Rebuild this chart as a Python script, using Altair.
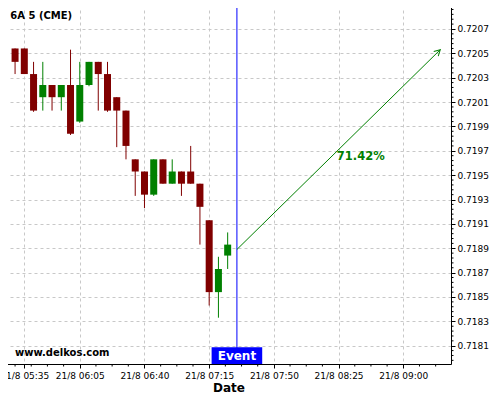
import math
import altair as alt
import pandas as pd

# ---------------- data ----------------
chart_title = "6A 5 (CME)"
watermark = "www.delkos.com"
day_label = "21/8"

times = ["05:30", "05:35", "05:40", "05:45", "05:50", "05:55", "06:00", "06:05",
         "06:10", "06:15", "06:20", "06:25", "06:30", "06:35", "06:40", "06:45",
         "06:50", "06:55", "07:00", "07:05", "07:10", "07:15", "07:20", "07:25"]
opens = [0.72054, 0.72054, 0.72033, 0.72014, 0.72024, 0.72014, 0.72024, 0.71994,
         0.72024, 0.72043, 0.72033, 0.72014, 0.72003, 0.71963, 0.71953, 0.71934,
         0.71963, 0.71943, 0.71953, 0.71953, 0.71943, 0.71913, 0.71854, 0.71884]
highs = [0.72054, 0.72054, 0.72043, 0.72043, 0.72024, 0.72024, 0.72053, 0.72043,
         0.72043, 0.72043, 0.72043, 0.72014, 0.72003, 0.71963, 0.71953, 0.71963,
         0.71963, 0.71963, 0.71953, 0.71974, 0.71943, 0.71913, 0.71883, 0.71903]
lows = [0.72033, 0.72033, 0.72002, 0.72003, 0.72003, 0.72003, 0.71983, 0.71993,
        0.72023, 0.72003, 0.72002, 0.71973, 0.71963, 0.71933, 0.71923, 0.71933,
        0.71943, 0.71943, 0.71933, 0.71943, 0.71893, 0.71843, 0.71833, 0.71873]
closes = [0.72043, 0.72033, 0.72003, 0.72024, 0.72014, 0.72024, 0.71984, 0.72024,
          0.72043, 0.72033, 0.72003, 0.72003, 0.71974, 0.71953, 0.71934, 0.71963,
          0.71943, 0.71953, 0.71943, 0.71943, 0.71924, 0.71854, 0.71873, 0.71893]

event_time = "07:30"
event_label = "Event"
arrow_times = ["07:30", "09:20"]
arrow_prices = [0.71889, 0.72053]
prob_label = "71.42%"
prob_time = "08:37"
prob_price = 0.71965

x_tick_times = ["05:35", "06:05", "06:40", "07:15", "07:50", "08:25", "09:00"]
y_ticks = [0.7181, 0.7183, 0.7185, 0.7187, 0.7189, 0.7191, 0.7193,
           0.7195, 0.7197, 0.7199, 0.7201, 0.7203, 0.7205, 0.7207, 0.7209]
x_domain_minutes = [327.8, 563.1]
y_domain = [0.71795, 0.720905]

# ---------------- helpers ----------------
def to_min(s):
    h, m = s.split(":")
    return int(h) * 60 + float(m)

W, H = 445, 360
FONT = "DejaVu Sans"
UP, DOWN = "#008000", "#800000"

x_ticks = [to_min(t) for t in x_tick_times]
step_minor_x = (x_ticks[2] - x_ticks[1]) / 4
x_minor = []
v = x_ticks[1] - step_minor_x
while v > x_domain_minutes[0]:
    x_minor.append(v)
    v -= step_minor_x
v = x_ticks[1] + step_minor_x
while v < x_domain_minutes[1]:
    x_minor.append(v)
    v += step_minor_x
x_minor = [m for m in x_minor if all(abs(m - t) > 0.5 for t in x_ticks)]

y_minor = []
yv = y_ticks[0] - 3 * 0.00004
while yv < y_domain[1]:
    if yv > y_domain[0] and all(abs(yv - t) > 1e-7 for t in y_ticks):
        y_minor.append(round(yv, 6))
    yv += 0.00004

xscale = alt.Scale(domain=x_domain_minutes, nice=False, zero=False)
yscale = alt.Scale(domain=y_domain, nice=False, zero=False)

candles = pd.DataFrame({
    "t": [to_min(t) for t in times],
    "open": opens, "high": highs, "low": lows, "close": closes,
})
candles["dir"] = ["up" if c >= o else "down" for o, c in zip(opens, closes)]

color = alt.Color("dir:N", scale=alt.Scale(domain=["up", "down"], range=[UP, DOWN]), legend=None)

label_expr = ('"' + day_label + ' " + (floor(datum.value/60) < 10 ? "0" : "") + floor(datum.value/60)'
              ' + ":" + (datum.value % 60 < 10 ? "0" : "") + (datum.value % 60)')

x_axis = alt.Axis(values=x_ticks, labelExpr=label_expr, title="Date", grid=True,
                  gridDash=[3, 3], gridColor="#c8c8c8", tickSize=4, tickColor="black",
                  domainColor="black", labelFont=FONT, labelFontSize=9, labelColor="black",
                  labelPadding=3, titleFont=FONT, titleFontSize=12, titleFontWeight="bold",
                  titleColor="black", titlePadding=2, labelFlush=False, labelOverlap=False)
y_axis = alt.Axis(values=y_ticks, format=".4f", orient="right", title=None, grid=True,
                  gridDash=[3, 3], gridColor="#c8c8c8", tickSize=4, tickColor="black",
                  domainColor="black", labelFont=FONT, labelFontSize=9, labelColor="black",
                  labelPadding=2, labelFlush=False, labelOverlap=False)

def X(field):
    return alt.X(field, scale=xscale, axis=x_axis, title="Date")

def Y(field):
    return alt.Y(field, scale=yscale, axis=y_axis, title=None)

base = alt.Chart(candles)

wicks = base.mark_rule(strokeWidth=1).encode(
    x=X("t:Q"), y=Y("low:Q"), y2="high:Q", color=color)
bodies = base.mark_bar(size=7).encode(
    x=X("t:Q"), y=Y("open:Q"), y2="close:Q", color=color)

event_df = pd.DataFrame({"t": [to_min(event_time)], "label": [event_label]})
event_line = alt.Chart(event_df).mark_rule(color="#0000ff", strokeWidth=1).encode(x=X("t:Q"))
event_box = alt.Chart(event_df).mark_point(
    shape="M -1 -0.33 L 1 -0.33 L 1 0.33 L -1 0.33 Z", filled=True, fill="#0000ff",
    strokeWidth=0, size=2560, opacity=1).encode(x=X("t:Q"), y=alt.value(351.7))
event_text = alt.Chart(event_df).mark_text(
    font=FONT, fontSize=12, fontWeight="bold", color="white", align="center",
    baseline="middle").encode(x=X("t:Q"), y=alt.value(352), text="label:N")

arrow_df = pd.DataFrame({"t": [to_min(t) for t in arrow_times], "p": arrow_prices})
arrow_line = alt.Chart(arrow_df).mark_line(color=UP, strokeWidth=1).encode(
    x=X("t:Q"), y=Y("p:Q"))

px_per_min = W / (x_domain_minutes[1] - x_domain_minutes[0])
px_per_price = H / (y_domain[1] - y_domain[0])
dx = (arrow_df.t[1] - arrow_df.t[0]) * px_per_min
dy = (arrow_df.p[1] - arrow_df.p[0]) * px_per_price
head_angle = 90 - math.degrees(math.atan2(dy, dx))
arrow_head = alt.Chart(arrow_df.iloc[[1]]).mark_point(
    shape="M -0.55 1 L 0 0 L 0.55 1", filled=False, stroke=UP, strokeWidth=1,
    size=140, opacity=1, angle=head_angle).encode(x=X("t:Q"), y=Y("p:Q"))

prob_df = pd.DataFrame({"t": [to_min(prob_time)], "p": [prob_price], "label": [prob_label]})
prob_text = alt.Chart(prob_df).mark_text(
    font=FONT, fontSize=11.5, fontWeight="bold", color=UP, align="center",
    baseline="middle").encode(x=X("t:Q"), y=Y("p:Q"), text="label:N")

minor_x_df = pd.DataFrame({"t": x_minor})
minor_x = alt.Chart(minor_x_df).mark_rule(color="black", strokeWidth=1).encode(
    x=X("t:Q"), y=alt.value(H), y2=alt.value(H + 2.5))
minor_y_df = pd.DataFrame({"p": y_minor})
minor_y = alt.Chart(minor_y_df).mark_rule(color="black", strokeWidth=1).encode(
    y=Y("p:Q"), x=alt.value(W), x2=alt.value(W + 2.5))

texts_df = pd.DataFrame({"title": [chart_title], "wm": [watermark]})
title_mark = alt.Chart(texts_df).mark_text(
    font=FONT, fontSize=10, fontWeight="bold", color="black", align="left",
    baseline="middle").encode(x=alt.value(4.3), y=alt.value(11.7), text="title:N")
wm_mark = alt.Chart(texts_df).mark_text(
    font=FONT, fontSize=10, fontWeight="bold", color="black", align="left",
    baseline="middle").encode(x=alt.value(9), y=alt.value(349.3), text="wm:N")

chart = alt.layer(
    wicks, bodies, event_line, arrow_line, arrow_head, prob_text,
    event_box, event_text, minor_x, minor_y, title_mark, wm_mark,
).properties(
    width=W, height=H,
    autosize=alt.AutoSizeParams(type="none"),
    padding={"left": -2, "top": -4, "right": 38, "bottom": 34},
    background="white",
).configure_view(stroke=None)

chart.save("out.html", embed_options={"renderer": "svg", "actions": False})
